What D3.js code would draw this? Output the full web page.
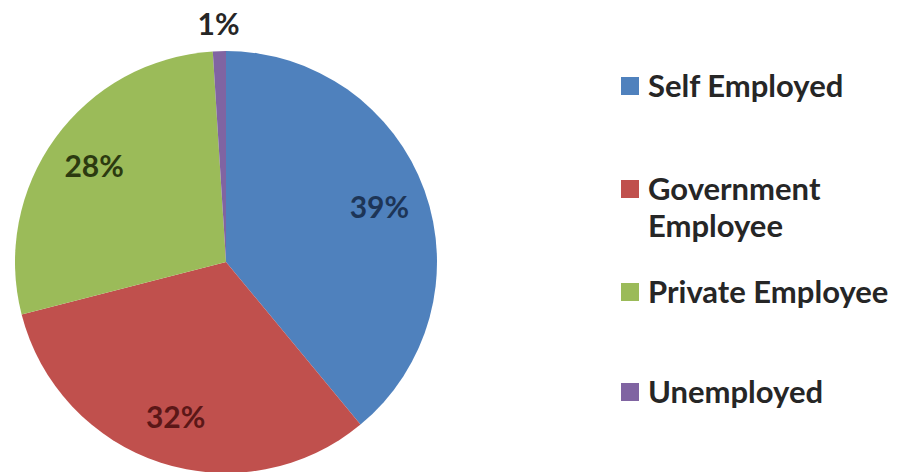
<!DOCTYPE html>
<html>
<head>
<meta charset="utf-8">
<script src="https://cdn.jsdelivr.net/npm/d3@7"></script>
<style>
  html, body { margin: 0; padding: 0; background: #ffffff; }
  svg { display: block; }
  text { font-family: Lato, "Open Sans", sans-serif; }
</style>
</head>
<body>
<svg id="chart" width="902" height="472"></svg>
<script>
// Employment status shares (percent)
const categories = ["Self Employed", "Government Employee", "Private Employee", "Unemployed"];
const values = [39, 32, 28, 1];
const sliceColors = ["#4f81bd", "#c0504d", "#9bbb59", "#8064a2"];
const labelColors = ["#1d3557", "#5b1717", "#2c3a10", "#262626"];
// Legend entries, split into display lines
const legendLines = [["Self Employed"], ["Government", "Employee"], ["Private Employee"], ["Unemployed"]];

const svg = d3.select("#chart");
const cx = 226, cy = 262, radius = 211;

const pie = d3.pie().sort(null).value(d => d)(values);
const arc = d3.arc().innerRadius(0).outerRadius(radius);
const labelArc = d3.arc().innerRadius(163).outerRadius(163);
const outerLabelArc = d3.arc().innerRadius(238).outerRadius(238);

const g = svg.append("g").attr("transform", `translate(${cx},${cy})`);

g.selectAll("path.slice")
  .data(pie)
  .join("path")
  .attr("class", "slice")
  .attr("d", arc)
  .attr("fill", (d, i) => sliceColors[i]);

// Percentage labels: inside for large slices, outside for tiny ones
g.selectAll("text.pct")
  .data(pie)
  .join("text")
  .attr("class", "pct")
  .attr("transform", d => {
    const small = (d.endAngle - d.startAngle) < 0.2;
    const p = (small ? outerLabelArc : labelArc).centroid(d);
    return `translate(${p[0]},${p[1]})`;
  })
  .attr("text-anchor", "middle")
  .attr("dy", "0.36em")
  .attr("font-size", 30)
  .attr("font-weight", 700)
  .attr("fill", (d, i) => labelColors[i])
  .text(d => d.data + "%");

// Legend
const legendX = 621;
const baselines = [[97], [200, 237], [303], [403]];
const legend = svg.append("g");
categories.forEach((c, i) => {
  const row = legend.append("g");
  row.append("rect")
    .attr("x", legendX)
    .attr("y", baselines[i][0] - 20)
    .attr("width", 18)
    .attr("height", 18)
    .attr("fill", sliceColors[i]);
  legendLines[i].forEach((line, j) => {
    row.append("text")
      .attr("x", legendX + 27)
      .attr("y", baselines[i][j])
      .attr("font-size", 31)
      .attr("font-weight", 700)
      .attr("fill", "#262626")
      .text(line);
  });
});
</script>
</body>
</html>
